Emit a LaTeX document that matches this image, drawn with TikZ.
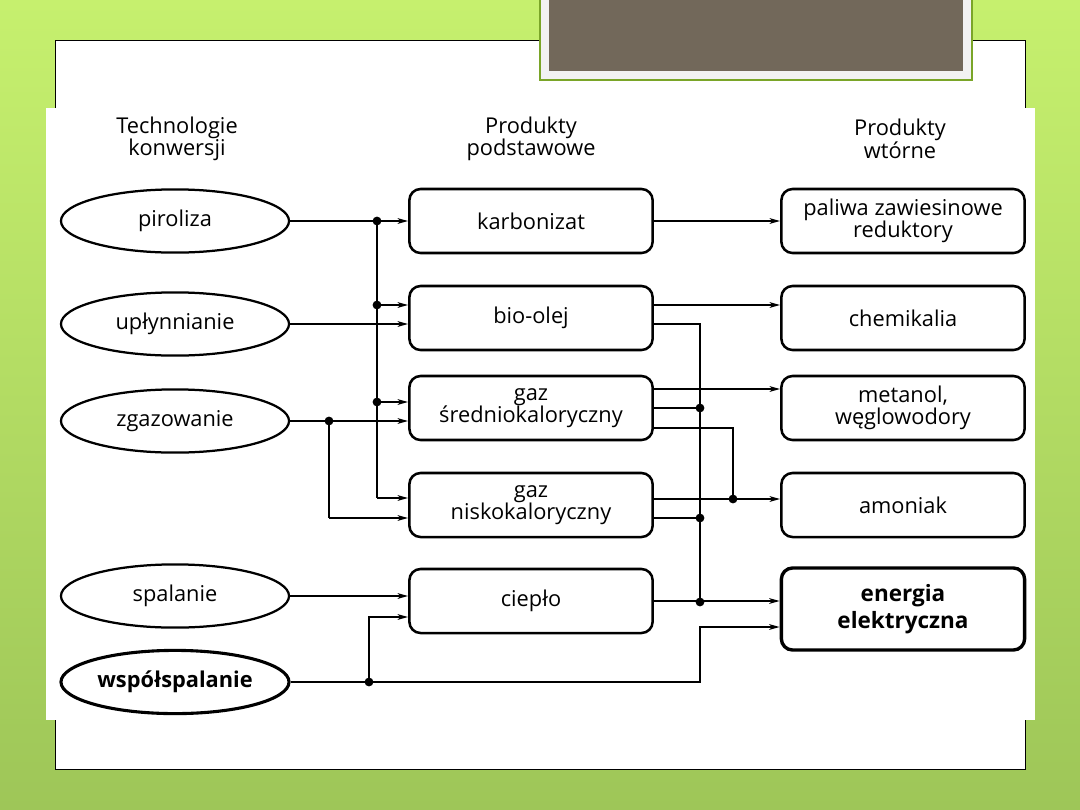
\documentclass[tikz,border=0pt]{standalone}
\usepackage{fontspec}
\setmainfont{Open Sans}
\usetikzlibrary{arrows.meta,shapes.geometric,calc}
\definecolor{slidetop}{RGB}{198,240,110}
\definecolor{slidebottom}{RGB}{158,198,88}
\definecolor{titlebrown}{RGB}{114,104,90}
\definecolor{titlegray}{RGB}{242,242,242}
\definecolor{titlegreen}{RGB}{122,165,40}
\tikzset{
  labelfont/.style={font=\fontsize{15.5pt}{16pt}\selectfont},
  tech/.style={ellipse,draw,line width=1.6pt,minimum width=5.7cm,minimum height=1.58cm,inner sep=0pt,labelfont},
  prod/.style={rectangle,rounded corners=0.28cm,draw,line width=1.8pt,minimum width=6.08cm,minimum height=1.6cm,inner sep=0pt,align=center,labelfont},
  head/.style={align=center,labelfont},
  link/.style={line width=1.3pt},
  feed/.style={link,-{Stealth[length=0.26cm,width=0.14cm,inset=0.07cm]}},
  junction/.style={circle,fill,inner sep=0pt,minimum size=0.22cm},
}
\begin{document}
\begin{tikzpicture}[x=0.025cm,y=-0.025cm]
            \useasboundingbox (0,0) rectangle (1080,810);

            % Drawing slide background
            \shade [top color=slidetop,bottom color=slidebottom] (0,0) rectangle (1080,810);
            \filldraw [fill=white,draw=black,line width=0.6pt] (55,40) rectangle (1025,769);
            \fill [titlegray] (540,-5) rectangle (972,80);
            \draw [titlegreen,line width=1.5pt] (540,-5) -- (540,80) -- (972,80) -- (972,-5);
            \fill [titlebrown] (549,-5) rectangle (963,71);
            \fill [white] (46,108) rectangle (1035,720);

            % Drawing column headers
            \node [head] (headtech) at (177,139) {Technologie\\konwersji};
            \node [head] (headbase) at (531,139) {Produkty\\podstawowe};
            \node [head] (headsec) at (900,139) {Produkty\\wtórne};

            % Drawing conversion technologies
            \node [tech] (piroliza) at (175,221) {piroliza};
            \node [tech] (uplyn) at (175,324) {upłynnianie};
            \node [tech] (zgaz) at (175,421) {zgazowanie};
            \node [tech] (spal) at (175,596) {spalanie};
            \node [tech,line width=2.2pt] (wspol) at (175,682) {\bfseries współspalanie};

            % Drawing basic products
            \node [prod] (karbon) at (531,221) {karbonizat};
            \node [prod] (bioolej) at (531,318) {bio-olej};
            \node [prod] (gazsr) at (531,408) {gaz\\średniokaloryczny};
            \node [prod] (gazni) at (531,505) {gaz\\niskokaloryczny};
            \node [prod] (cieplo) at (531,601) {ciepło};

            % Drawing secondary products
            \node [prod] (paliwa) at (903,221) {paliwa zawiesinowe\\reduktory};
            \node [prod] (chemik) at (903,318) {chemikalia};
            \node [prod] (metanol) at (903,408) {metanol,\\węglowodory};
            \node [prod] (amoniak) at (903,505) {amoniak};
            \node [prod,line width=2.4pt,minimum height=2.05cm,font=\fontsize{16pt}{19pt}\selectfont\bfseries] (energia) at (903,609) {energia\\elektryczna};

            % Marking junctions by dots
            \node [junction] (jp) at (377,221) {};
            \node [junction] (jb) at (377,305) {};
            \node [junction] (js) at (377,402) {};
            \node [junction] (jz) at (329,421) {};
            \node [junction] (jw) at (369,682) {};
            \node [junction] (rs) at (700,408) {};
            \node [junction] (rn) at (700,518) {};
            \node [junction] (rc) at (700,602) {};
            \node [junction] (ra) at (733,499) {};
            \coordinate (jpend) at (377,498);
            \coordinate (jzend) at (329,518);
            \coordinate (jwup) at (369,617);
            \coordinate (wright) at (700,682);
            \coordinate (wup) at (700,627);
            \coordinate (rbtop) at (700,324);
            \coordinate (rstop) at (733,428);

            % Drawing links into basic products
            \draw [feed] (piroliza) -- (karbon);
            \draw [link] (jp.center) -- (jpend);
            \draw [feed] (jb.center) -- (jb -| bioolej.west);
            \draw [feed] (uplyn) -- (uplyn -| bioolej.west);
            \draw [feed] (js.center) -- (js -| gazsr.west);
            \draw [feed] (zgaz) -- (zgaz -| gazsr.west);
            \draw [feed] (jpend) -- (jpend -| gazni.west);
            \draw [link] (jz.center) -- (jzend);
            \draw [feed] (jzend) -- (jzend -| gazni.west);
            \draw [feed] (spal) -- (spal -| cieplo.west);
            \draw [feed,line width=2pt] (jw.center) -- (jwup) -- (jwup -| cieplo.west);
            \draw [feed,line width=2pt] (wspol) -- (wright) -- (wup) -- (wup -| energia.west);

            % Drawing links into secondary products
            \draw [feed] (karbon) -- (paliwa);
            \draw [feed] (bioolej.east |- jb) -- (jb -| chemik.west);
            \draw [link] (bioolej.east |- rbtop) -- (rbtop) -- (rc.center);
            \draw [feed] ($(gazsr.east)+(0,-19)$) -- ($(metanol.west)+(0,-19)$);
            \draw [link] (gazsr.east) -- (rs.center);
            \draw [link] (gazsr.east |- rstop) -- (rstop) -- (ra.center);
            \draw [feed] (gazni.east |- ra) -- (ra -| amoniak.west);
            \draw [link] (gazni.east |- rn) -- (rn.center);
            \draw [feed] (cieplo) -- (cieplo -| energia.west);
\end{tikzpicture}
\end{document}
